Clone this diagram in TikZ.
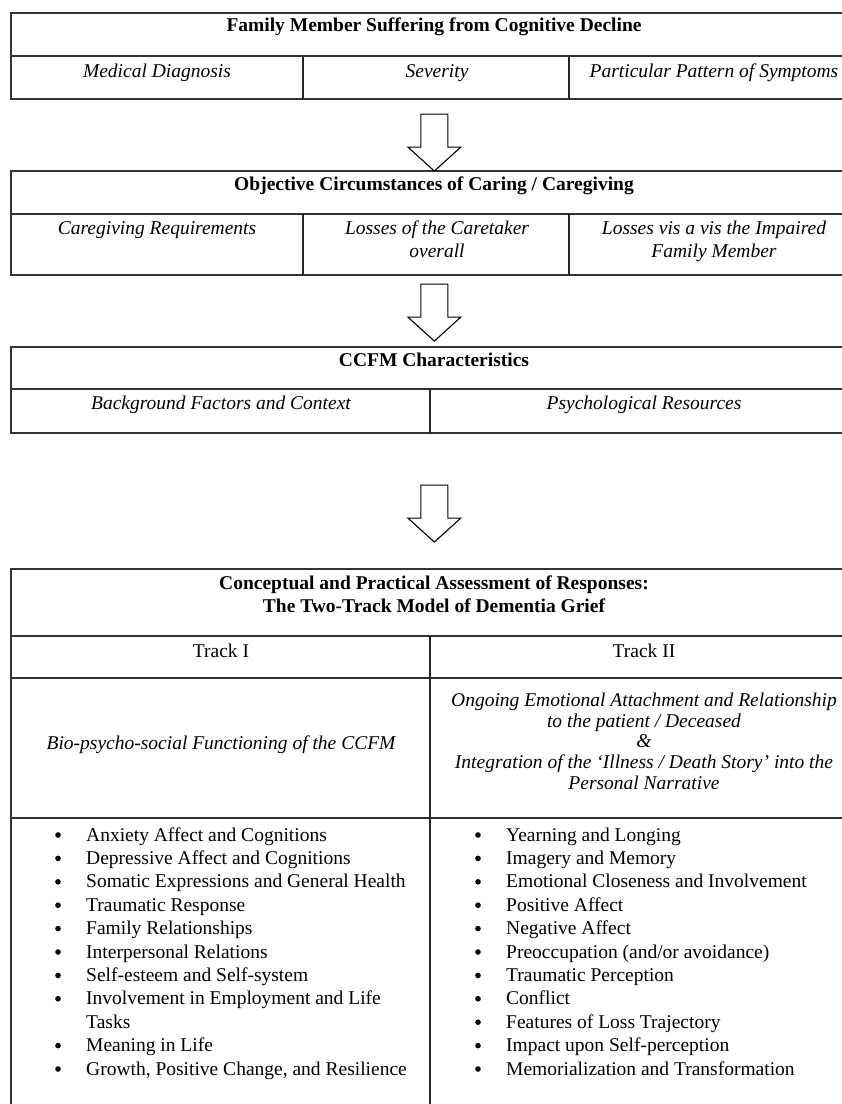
\documentclass[tikz,border=0pt]{standalone}
\usepackage{fontspec}
\setmainfont{Liberation Serif}
\usetikzlibrary{calc}
\newcommand\figfont{\fontsize{19.5}{23}\selectfont}
\begin{document}
\begin{tikzpicture}[x=1pt,y=-1pt,
  box/.style={draw=black!80, line width=2.1pt, inner sep=0pt, minimum width=847.3pt},
  rule/.style={draw=black!80, line width=1.9pt},
  vrule/.style={draw=black!85, line width=1.3pt},
  ttl/.style={font=\figfont\bfseries, anchor=base, inner sep=0pt},
  itl/.style={font=\figfont\itshape, anchor=base, inner sep=0pt},
  txt/.style={font=\figfont, anchor=base, inner sep=0pt},
  item/.style={font=\figfont, anchor=base west, inner sep=0pt},
  dot/.style={circle, fill=black, inner sep=0pt, minimum size=5.6pt},
  blockarrow/.style={draw=black, line width=1.1pt, fill=white, line join=miter},
  downarrow/.pic={\draw[blockarrow] (-13.5,0) -- (13.5,0) -- (13.5,33) -- (26.5,33)
      -- (0,57) -- (-26.5,33) -- (-13.5,33) -- cycle;}
]
\useasboundingbox (0,0) rectangle (842,1104);
\clip (0,0) rectangle (842,1104);
\fill[white] (0,0) rectangle (842,1104);

% ---------- box 1 ----------
\node[box, minimum height=86pt] (b1) at (434.35,56) {};
\draw[rule] ($(b1.north west)+(0,44)$) -- ($(b1.north east)+(0,44)$);
\draw[vrule] ($(b1.north west)+(293.3,44)$) -- ($(b1.south west)+(293.3,0)$);
\draw[vrule] ($(b1.north west)+(559.3,44)$) -- ($(b1.south west)+(559.3,0)$);
\node[ttl] (t1) at (434,31) {Family Member Suffering from Cognitive Decline};
\node[itl] (t1a) at (157,77) {Medical Diagnosis};
\node[itl] (t1b) at (437,77) {Severity};
\node[itl] (t1c) at (714,77) {Particular Pattern of Symptoms};

% ---------- box 2 ----------
\node[box, minimum height=104pt] (b2) at (434.35,223) {};
\draw[rule] ($(b2.north west)+(0,44)$) -- ($(b2.north east)+(0,44)$);
\draw[vrule] ($(b2.north west)+(293.3,44)$) -- ($(b2.south west)+(293.3,0)$);
\draw[vrule] ($(b2.north west)+(559.3,44)$) -- ($(b2.south west)+(559.3,0)$);
\node[ttl] (t2) at (434,190) {Objective Circumstances of Caring / Caregiving};
\node[itl] (t2a) at (157,234) {Caregiving Requirements};
\node[itl] (t2b) at (437,234) {Losses of the Caretaker};
\node[itl] (t2b2) at (437,257) {overall};
\node[itl] (t2c) at (714,234) {Losses vis a vis the Impaired};
\node[itl] (t2c2) at (714,257) {Family Member};

% ---------- box 3 ----------
\node[box, minimum height=86pt] (b3) at (434.35,390) {};
\draw[rule] ($(b3.north west)+(0,43)$) -- ($(b3.north east)+(0,43)$);
\draw[vrule] ($(b3.north west)+(420.3,43)$) -- ($(b3.south west)+(420.3,0)$);
\node[ttl] (t3) at (434,366) {CCFM Characteristics};
\node[itl] (t3a) at (221,409) {Background Factors and Context};
\node[itl] (t3b) at (644,409) {Psychological Resources};

% ---------- box 4 ----------
\node[box, minimum height=551pt] (b4) at (434.35,844.5) {};
\draw[rule] ($(b4.north west)+(0,68)$) -- ($(b4.north east)+(0,68)$);
\draw[rule] ($(b4.north west)+(0,110)$) -- ($(b4.north east)+(0,110)$);
\draw[rule] ($(b4.north west)+(0,250)$) -- ($(b4.north east)+(0,250)$);
\draw[vrule] ($(b4.north west)+(420.3,68)$) -- ($(b4.south west)+(420.3,0)$);
\node[ttl] (t4) at (434,589) {Conceptual and Practical Assessment of Responses:};
\node[ttl] (t4b) at (434,612) {The Two-Track Model of Dementia Grief};
\node[txt] (tr1) at (221,657) {Track I};
\node[txt] (tr2) at (644,657) {Track II};
\node[itl] (f1) at (221,749) {Bio-psycho-social Functioning of the CCFM};
\node[itl] (f2a) at (644,706) {Ongoing Emotional Attachment and Relationship};
\node[itl] (f2b) at (644,727) {to the patient / Deceased};
\node[itl] (f2c) at (644,747) {\&};
\node[itl] (f2d) at (644,768) {Integration of the ‘Illness / Death Story’ into the};
\node[itl] (f2e) at (644,789) {Personal Narrative};

% Track I list
\foreach \t [count=\k from 0] in {Anxiety Affect and Cognitions,
    Depressive Affect and Cognitions,
    Somatic Expressions and General Health,
    Traumatic Response,
    Family Relationships,
    Interpersonal Relations,
    Self-esteem and Self-system,
    Involvement in Employment and Life,
    Tasks,
    Meaning in Life,
    {Growth, Positive Change, and Resilience}}{
  \node[item] (l\k) at (86,841+23.4*\k) {\t};
  \ifnum\k=8\else
    \node[dot] (ld\k) at (58,835+23.4*\k) {};
  \fi
}

% Track II list
\foreach \t [count=\k from 0] in {Yearning and Longing,
    Imagery and Memory,
    Emotional Closeness and Involvement,
    Positive Affect,
    Negative Affect,
    {Preoccupation (and/or avoidance)},
    Traumatic Perception,
    Conflict,
    Features of Loss Trajectory,
    Impact upon Self-perception,
    Memorialization and Transformation}{
  \node[item] (r\k) at (506,841+23.4*\k) {\t};
  \node[dot] (rd\k) at (478,835+23.4*\k) {};
}

% ---------- block arrows between the boxes ----------
\path ($(b1.south)+(0,14)$) pic {downarrow};
\path ($(b2.south)+(0,8)$) pic {downarrow};
\path ($(b3.south)+(0,51)$) pic {downarrow};
\end{tikzpicture}
\end{document}
